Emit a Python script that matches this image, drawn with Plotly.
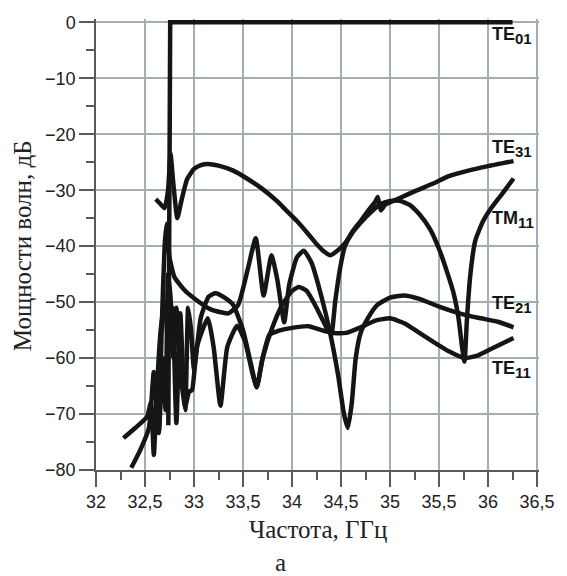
import plotly.graph_objects as go

# Frequency (GHz) / power (dB) samples for each waveguide mode
te01_f = [32.738, 32.742, 32.747, 32.757, 36.25]
te01_p = [-72.0, -40.0, -3.0, 0.0, 0.0]

te31_f = [32.61, 32.66, 32.70, 32.735, 32.76, 32.79, 32.83, 32.87, 32.93, 33.00, 33.07, 33.14,
          33.25, 33.40, 33.54, 33.70, 33.85, 33.94, 34.05, 34.15, 34.25, 34.33, 34.39, 34.45,
          34.54, 34.62, 34.70, 34.78, 34.85, 34.875, 34.905, 34.95, 35.02, 35.10, 35.25, 35.44,
          35.60, 35.80, 36.00, 36.26]
te31_p = [-31.6, -32.5, -33.2, -30.0, -23.5, -29.0, -35.0, -32.0, -28.0, -26.2, -25.5, -25.3,
          -25.6, -26.5, -27.9, -29.8, -32.0, -33.6, -35.5, -37.5, -39.6, -41.0, -41.6, -41.0,
          -39.5, -37.3, -35.5, -33.6, -32.0, -31.2, -33.6, -32.6, -32.0, -31.4, -30.2, -28.8,
          -27.5, -26.5, -25.7, -24.8]

tm11_f = [32.60, 32.64, 32.68, 32.71, 32.735, 32.76, 32.79, 32.82, 32.86, 32.91, 32.94, 32.97,
          33.00, 33.07, 33.15, 33.22, 33.32, 33.40, 33.50, 33.58, 33.64, 33.70, 33.80, 33.90,
          34.00, 34.07, 34.15, 34.25, 34.35, 34.40, 34.44, 34.49, 34.54, 34.62, 34.70, 34.80,
          34.90, 35.00, 35.10, 35.20, 35.30, 35.41, 35.50, 35.58, 35.65, 35.70, 35.735, 35.76,
          35.785, 35.82, 35.87, 35.95, 36.04, 36.15, 36.26]
tm11_p = [-70.0, -73.2, -60.0, -69.3, -45.0, -49.0, -60.0, -51.0, -62.0, -69.3, -51.0, -55.0,
          -62.0, -52.7, -49.0, -48.4, -49.3, -50.5, -55.0, -61.0, -65.2, -60.0, -54.5, -50.5,
          -48.0, -47.3, -48.0, -51.0, -54.5, -55.8, -50.0, -44.0, -40.0, -37.5, -35.8, -34.0,
          -32.5, -31.9, -31.9, -32.6, -34.3, -37.0, -40.5, -44.5, -48.5, -53.0, -58.0, -60.6,
          -53.0, -45.0, -39.0, -35.5, -33.0, -30.5, -27.9]

te21_f = [32.36, 32.45, 32.54, 32.59, 32.64, 32.67, 32.70, 32.72, 32.75, 32.80, 32.90, 33.00,
          33.17, 33.35, 33.45, 33.55, 33.63, 33.71, 33.79, 33.85, 33.92, 33.97, 34.05, 34.12,
          34.20, 34.30, 34.39, 34.47, 34.53, 34.57, 34.61, 34.65, 34.70, 34.77, 34.87, 35.00,
          35.14, 35.30, 35.50, 35.71, 35.90, 36.10, 36.26]
te21_p = [-79.6, -76.5, -72.5, -62.5, -73.4, -55.0, -40.0, -36.0, -42.0, -45.5, -47.8, -49.3,
          -51.3, -52.0, -50.5, -44.0, -38.6, -48.8, -41.6, -46.0, -53.6, -47.0, -42.0, -40.8,
          -43.0, -49.0, -55.6, -63.0, -70.0, -72.5, -68.0, -60.0, -55.5, -53.0, -50.5, -49.2,
          -48.8, -49.4, -50.8, -52.0, -52.8, -53.5, -54.5]

te11_f = [32.28, 32.40, 32.52, 32.56, 32.59, 32.62, 32.66, 32.70, 32.74, 32.78, 32.82, 32.86,
          32.91, 32.95, 32.98, 33.03, 33.14, 33.20, 33.27, 33.34, 33.44, 33.52, 33.60, 33.64,
          33.70, 33.77, 33.85, 34.00, 34.17, 34.30, 34.42, 34.55, 34.70, 34.85, 35.00, 35.15,
          35.30, 35.45, 35.60, 35.76, 35.90, 36.05, 36.26]
te11_p = [-74.3, -72.5, -70.5, -68.0, -77.3, -66.0, -55.0, -50.0, -58.0, -51.0, -71.6, -52.0,
          -68.7, -66.0, -65.7, -58.0, -52.9, -58.0, -68.5, -58.0, -54.2, -57.0, -63.0, -65.2,
          -60.0, -55.8, -55.2, -54.6, -54.3, -55.0, -55.5, -55.5, -54.5, -53.3, -52.9, -53.8,
          -55.5, -57.2, -58.8, -60.0, -59.5, -58.2, -56.4]

mode_names = ["TE", "TE", "TM", "TE", "TE"]
mode_indices = ["01", "31", "11", "21", "11"]
label_levels = [-2.4, -22.6, -35.2, -50.4, -62.0]

x_ticks = [32, 32.5, 33, 33.5, 34, 34.5, 35, 35.5, 36, 36.5]
y_ticks = [0, -10, -20, -30, -40, -50, -60, -70, -80]

ink = "#151515"
fig = go.Figure()
curves = [(te31_f, te31_p, "spline"), (tm11_f, tm11_p, "spline"), (te21_f, te21_p, "spline"),
          (te11_f, te11_p, "spline"), (te01_f, te01_p, "linear")]
for f, p, shape in curves:
    line = dict(color=ink, width=4.5, shape=shape)
    if shape == "spline":
        line["smoothing"] = 0.5
    fig.add_trace(go.Scatter(x=f, y=p, mode="lines", line=line,
                             showlegend=False, hoverinfo="skip"))

for name, idx, lvl in zip(mode_names, mode_indices, label_levels):
    fig.add_annotation(x=36.02, y=lvl, xref="x", yref="y",
                       text=f"<b>{name}<sub><span style='font-size:15px'>{idx}</span></sub></b>",
                       showarrow=False, xanchor="left", yanchor="middle",
                       font=dict(family="Liberation Sans, Arial", size=18, color=ink))

serif = "Liberation Serif, Times New Roman, serif"
fig.add_annotation(x=0.5, y=-0.133, xref="paper", yref="paper", text="Частота, ГГц",
                   showarrow=False, xanchor="center", yanchor="middle",
                   font=dict(family=serif, size=25, color="#222"))
fig.add_annotation(x=-0.164, y=0.497, xref="paper", yref="paper", text="Мощности волн, дБ",
                   showarrow=False, textangle=-90, xanchor="center", yanchor="middle",
                   font=dict(family=serif, size=25, color="#222"))
fig.add_annotation(x=0.416, y=-0.205, xref="paper", yref="paper", text="а",
                   showarrow=False, xanchor="center", yanchor="middle",
                   font=dict(family=serif, size=25, color="#222"))

grid = "#a3adb8"
axis_col = "#5a5a5a"
fig.update_layout(
    width=567, height=576,
    margin=dict(l=96, r=19, t=19, b=106),
    paper_bgcolor="white", plot_bgcolor="white",
    separators=", ",
    xaxis=dict(range=[32, 36.52], tickvals=x_ticks, showgrid=True, gridcolor=grid, gridwidth=1.5,
               showline=True, linecolor=axis_col, linewidth=1.5, zeroline=False,
               ticks="outside", ticklen=15, tickwidth=1.5, tickcolor=axis_col,
               minor=dict(dtick=0.25, ticks="outside", ticklen=8, tickwidth=1.5,
                          tickcolor=axis_col, showgrid=False),
               tickfont=dict(family="Liberation Sans, Arial", size=18, color="#222")),
    yaxis=dict(range=[-80, 0.6], tickvals=y_ticks, showgrid=True, gridcolor=grid, gridwidth=1.5,
               showline=True, linecolor=axis_col, linewidth=1.5, zeroline=False,
               ticks="outside", ticklen=15, tickwidth=1.5, tickcolor=axis_col,
               minor=dict(dtick=5, ticks="outside", ticklen=8, tickwidth=1.5,
                          tickcolor=axis_col, showgrid=False),
               tickfont=dict(family="Liberation Sans, Arial", size=18, color="#222")),
)

fig.write_html("out.html")
